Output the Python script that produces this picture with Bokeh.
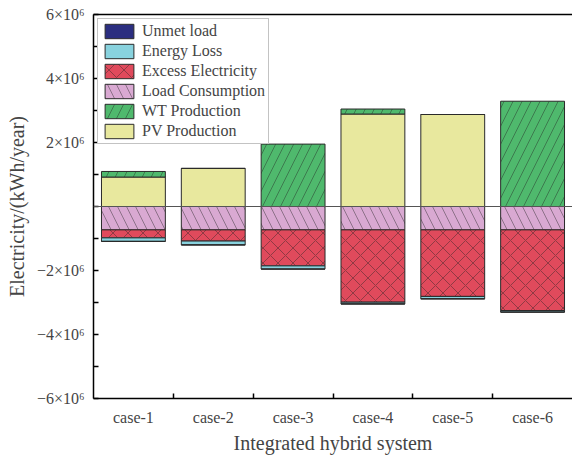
from bokeh.plotting import figure
from bokeh.models import (FixedTicker, LinearAxis, Range1d, Legend, LegendItem,
                          Span, CustomJSTickFormatter)
from bokeh.embed import file_html
from bokeh.resources import INLINE

# ---- data (kWh/year) ----
cases = ["case-1", "case-2", "case-3", "case-4", "case-5", "case-6"]
pv_production = [920000, 1190000, 0, 2890000, 2875000, 0]
wt_production = [175000, 0, 1950000, 156000, 0, 3290000]
load_consumption = [730000, 730000, 730000, 730000, 730000, 730000]
excess_electricity = [250000, 350000, 1125000, 2260000, 2080000, 2520000]
energy_loss = [110000, 120000, 100000, 55000, 75000, 50000]
unmet_load = [0, 0, 0, 0, 0, 0]

y_ticks = [-6000000, -5000000, -4000000, -3000000, -2000000, -1000000, 0,
           1000000, 2000000, 3000000, 4000000, 5000000, 6000000]

FONT = "Liberation Serif"

x = [i + 0.5 for i in range(len(cases))]

# stacking
pv_top = pv_production
wt_bot = pv_production
wt_top = [a + b for a, b in zip(pv_production, wt_production)]
load_top = [0] * len(cases)
load_bot = [-a for a in load_consumption]
ex_top = load_bot
ex_bot = [t - e for t, e in zip(ex_top, excess_electricity)]
loss_top = ex_bot
loss_bot = [t - e for t, e in zip(loss_top, energy_loss)]
un_top = loss_bot
un_bot = [t - e for t, e in zip(un_top, unmet_load)]

p = figure(width=572, height=457, output_backend="svg", toolbar_location=None,
           x_range=Range1d(0, len(cases)), y_range=Range1d(-6000000, 6000000),
           x_axis_type=None, y_axis_type=None,
           min_border_left=93, min_border_right=0, min_border_top=14,
           min_border_bottom=59)
p.outline_line_color = None
p.xgrid.visible = False
p.ygrid.visible = False
p.background_fill_color = "white"
p.border_fill_color = "white"

W = 0.8
common = dict(width=W, line_color="#2a2a2a", line_width=1,
              hatch_color="#222222", hatch_alpha=0.7, hatch_weight=0.6)

r_pv = p.vbar(x=x, bottom=[0] * len(cases), top=pv_top, fill_color="#e8e89e", **common)
r_wt = p.vbar(x=x, bottom=wt_bot, top=wt_top, fill_color="#4fb96d",
              hatch_pattern="right_diagonal_line", hatch_scale=18, **common)
r_load = p.vbar(x=x, bottom=load_bot, top=load_top, fill_color="#d9a9d2",
                hatch_pattern="left_diagonal_line", hatch_scale=18, **common)
r_ex = p.vbar(x=x, bottom=ex_bot, top=ex_top, fill_color="#e04a5c",
              hatch_pattern="diagonal_cross", hatch_scale=15, **common)
r_loss = p.vbar(x=x, bottom=loss_bot, top=loss_top, fill_color="#88d2de", **common)
r_un = p.vbar(x=x, bottom=un_bot, top=un_top, fill_color="#2b2e80", **common)

p.add_layout(Span(location=0, dimension="width", line_color="#555555", line_width=1.2))

# axes
xaxis = LinearAxis(
    ticker=FixedTicker(ticks=x, minor_ticks=list(range(1, len(cases)))),
    formatter=CustomJSTickFormatter(args=dict(labels=cases),
                                    code="return labels[Math.floor(tick)] || '';"),
    axis_label="Integrated hybrid system")
xaxis.major_tick_in = 0
xaxis.major_tick_out = 0
xaxis.minor_tick_in = 5
xaxis.minor_tick_out = 0
xaxis.minor_tick_line_color = "black"
xaxis.minor_tick_line_width = 1.5
xaxis.axis_line_width = 1.5
xaxis.major_label_standoff = 10
xaxis.major_label_text_font = FONT
xaxis.major_label_text_font_size = "16px"
xaxis.axis_label_text_font = FONT
xaxis.axis_label_text_font_size = "20px"
xaxis.axis_label_text_font_style = "normal"
xaxis.axis_label_standoff = 3
p.add_layout(xaxis, "below")

yaxis = LinearAxis(
    ticker=FixedTicker(ticks=y_ticks, minor_ticks=[]),
    formatter=CustomJSTickFormatter(code="""
        const m = Math.round(tick / 1e6);
        if (m === 0 || m % 2 !== 0) return '';
        return (m < 0 ? '\u2212' : '') + Math.abs(m) + '\u00d710\u2076';
    """),
    axis_label="Electricity/(kWh/year)")
yaxis.major_tick_in = 5
yaxis.major_tick_out = 0
yaxis.major_tick_line_width = 1.5
yaxis.axis_line_width = 1.5
yaxis.major_label_standoff = 9
yaxis.major_label_text_font = FONT
yaxis.major_label_text_font_size = "16px"
yaxis.axis_label_text_font = FONT
yaxis.axis_label_text_font_size = "20px"
yaxis.axis_label_text_font_style = "normal"
yaxis.axis_label_standoff = 6
p.add_layout(yaxis, "left")

top_axis = LinearAxis(ticker=FixedTicker(ticks=[]), major_tick_line_color=None,
                      minor_tick_line_color=None, major_label_text_font_size="0px",
                      axis_line_width=1.5)
p.add_layout(top_axis, "above")

legend = Legend(items=[
    LegendItem(label="Unmet load", renderers=[r_un]),
    LegendItem(label="Energy Loss", renderers=[r_loss]),
    LegendItem(label="Excess Electricity", renderers=[r_ex]),
    LegendItem(label="Load Consumption", renderers=[r_load]),
    LegendItem(label="WT Production", renderers=[r_wt]),
    LegendItem(label="PV Production", renderers=[r_pv]),
], location="top_left")
legend.margin = 4
legend.padding = 3
legend.spacing = 2
legend.glyph_width = 36
legend.glyph_height = 18
legend.label_height = 18
legend.label_standoff = 5
legend.label_text_font = FONT
legend.label_text_font_size = "16px"
legend.border_line_color = "#888888"
legend.border_line_width = 1
legend.background_fill_alpha = 1
p.add_layout(legend, "center")

open("out.html", "w").write(file_html(p, INLINE))
